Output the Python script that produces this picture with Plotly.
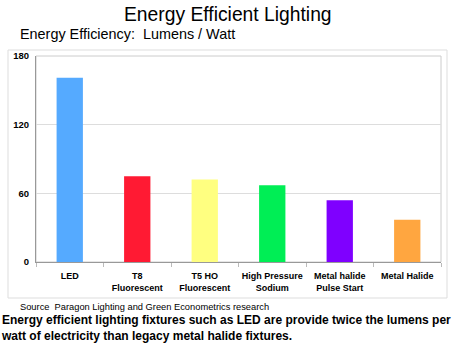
import plotly.graph_objects as go

categories = ["LED", "T8<br>Fluorescent", "T5 HO<br>Fluorescent", "High Pressure<br>Sodium",
              "Metal halide<br>Pulse Start", "Metal Halide"]
values = [161, 75, 72, 67, 54, 37]
colors = ["#55AAFF", "#FF1A33", "#FFFF80", "#00EE55", "#7F00FF", "#FFA640"]
y_ticks = [0, 60, 120, 180]

FONT = "Liberation Sans, Arial, sans-serif"

fig = go.Figure()
fig.add_trace(go.Bar(x=categories, y=values, marker=dict(color=colors, line=dict(width=0)),
                     width=0.39, hoverinfo="x+y"))

fig.update_layout(
    width=455, height=349,
    margin=dict(l=36, r=14, t=56, b=87),
    paper_bgcolor="white", plot_bgcolor="white",
    showlegend=False,
    font=dict(family=FONT, color="black"),
    xaxis=dict(showline=True, linecolor="#999999", linewidth=1, ticks="outside",
               tickcolor="#bbbbbb", ticklen=4, tickson="boundaries", tickangle=0,
               ticklabelstandoff=5,
               tickfont=dict(size=9, family=FONT, weight="bold"), showgrid=False),
    yaxis=dict(range=[0, 180], tickvals=y_ticks, showline=True, linecolor="#999999",
               gridcolor="#dddddd", ticks="", ticklabelstandoff=4,
               tickfont=dict(size=9.5, family=FONT, weight="bold"), zeroline=False,
               mirror=False),
)

# plot frame
fig.add_shape(type="rect", xref="paper", yref="paper", x0=0, x1=1, y0=0, y1=1,
              line=dict(color="#cccccc", width=1), layer="below")
# outer box
fig.add_shape(type="rect", xref="paper", yref="paper",
              x0=(8 - 36) / 405, x1=(447 - 36) / 405,
              y0=(262 - 298) / 206, y1=(262 - 50) / 206,
              line=dict(color="#dddddd", width=1))

fig.add_annotation(text="Energy Efficient Lighting", xref="paper", yref="paper",
                   x=(228 - 36) / 405, y=(262 - 14) / 206, xanchor="center", yanchor="middle",
                   showarrow=False, font=dict(size=19.3, family=FONT))
fig.add_annotation(text="Energy Efficiency:  Lumens / Watt", xref="paper", yref="paper",
                   x=(18 - 36) / 405, y=(262 - 34) / 206, xanchor="left", yanchor="middle",
                   showarrow=False, font=dict(size=14.4, family=FONT))
fig.add_annotation(text="Source  Paragon Lighting and Green Econometrics research", xref="paper",
                   yref="paper", x=(18 - 36) / 405, y=(262 - 307) / 206, xanchor="left",
                   yanchor="middle", showarrow=False, font=dict(size=9.3, family=FONT))
fig.add_annotation(text="<b>Energy efficient lighting fixtures such as LED are provide twice the lumens per<br>watt of electricity than legacy metal halide fixtures.</b>",
                   xref="paper", yref="paper", x=(0 - 36) / 405, y=(262 - 328) / 206,
                   xanchor="left", yanchor="middle", align="left", showarrow=False,
                   borderpad=0, font=dict(size=12, family=FONT))

fig.write_html("out.html")
